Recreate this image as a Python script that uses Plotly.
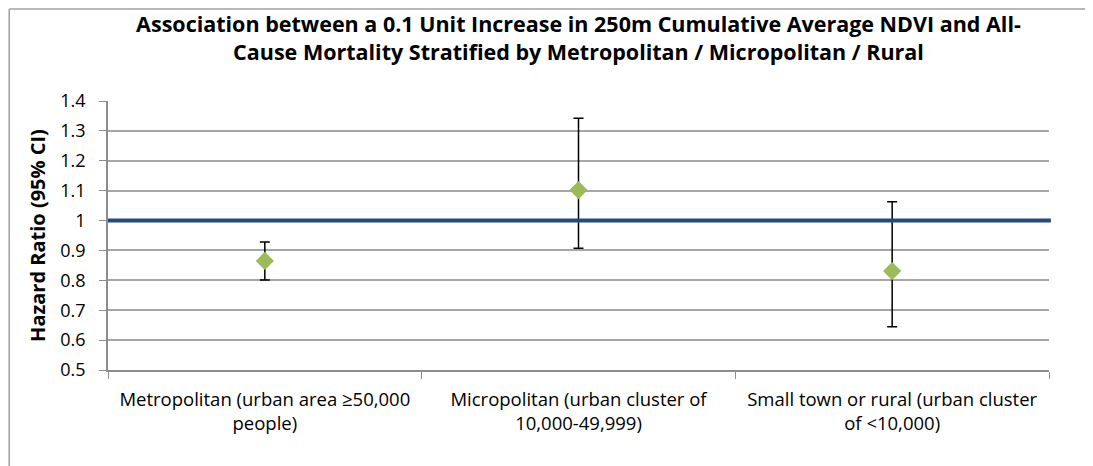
import plotly.graph_objects as go

# ── Data ────────────────────────────────────────────────────────────────────
categories = [
    "Metropolitan (urban area ≥50,000<br>people)",
    "Micropolitan (urban cluster of<br>10,000-49,999)",
    "Small town or rural (urban cluster<br>of <10,000)",
]
hazard_ratio = [0.865, 1.102, 0.831]
ci_lower = [0.801, 0.907, 0.645]
ci_upper = [0.928, 1.342, 1.063]
y_ticks = [0.5, 0.6, 0.7, 0.8, 0.9, 1, 1.1, 1.2, 1.3, 1.4]
y_tick_text = ["0.5", "0.6", "0.7", "0.8", "0.9", "1", "1.1", "1.2", "1.3", "1.4"]
reference_hr = 1.0

# ── Style ───────────────────────────────────────────────────────────────────
FONT = "Open Sans, sans-serif"
MARKER_COLOR = "#9BBB59"
REF_COLOR = "#23497F"
GRID_COLOR = "#A6A6A6"
AXIS_COLOR = "#8C8C8C"
FRAME_COLOR = "#A0A0A0"

err_plus = [u - h for u, h in zip(ci_upper, hazard_ratio)]
err_minus = [h - l for h, l in zip(hazard_ratio, ci_lower)]

fig = go.Figure()
fig.add_trace(go.Scatter(
    x=categories, y=hazard_ratio,
    mode="markers",
    marker=dict(symbol="diamond", size=14, color=MARKER_COLOR),
    error_y=dict(type="data", array=err_plus, arrayminus=err_minus,
                 color="black", thickness=1.5, width=5),
    showlegend=False,
))

# reference line at HR = 1
fig.add_shape(type="line", xref="paper", yref="y", x0=0, x1=1.002,
              y0=reference_hr, y1=reference_hr,
              line=dict(color=REF_COLOR, width=4))

# outer frame (left + top border)
fig.add_shape(type="line", xref="paper", yref="paper", x0=-0.105,
              x1=-0.105, y0=-0.36, y1=1.342, line=dict(color=FRAME_COLOR, width=1.5))
fig.add_shape(type="line", xref="paper", yref="paper", x0=-0.105,
              x1=1.05, y0=1.342, y1=1.342, line=dict(color=FRAME_COLOR, width=1.5))

fig.update_layout(
    width=1085, height=458,
    paper_bgcolor="white", plot_bgcolor="white",
    margin=dict(l=100, r=44, t=93, b=96),
    font=dict(family=FONT, color="black", size=16),
    title=dict(
        text="<b>Association between a 0.1 Unit Increase in 250m Cumulative Average NDVI and All-<br>"
             "Cause Mortality Stratified by Metropolitan / Micropolitan / Rural</b>",
        xref="paper", x=0.5, xanchor="center",
        yref="container", y=0.947, yanchor="top",
        font=dict(family=FONT, size=21.5),
    ),
    xaxis=dict(
        type="category", showgrid=False,
        showline=True, linecolor=AXIS_COLOR, linewidth=1.5,
        ticks="outside", tickson="boundaries", ticklen=7, tickcolor=AXIS_COLOR,
        tickfont=dict(size=18.5), ticklabelstandoff=12, range=[-0.5, 2.5],
    ),
    yaxis=dict(
        range=[0.5, 1.4], tickvals=y_ticks, ticktext=y_tick_text,
        showgrid=True, gridcolor=GRID_COLOR, gridwidth=1.5,
        showline=True, linecolor=AXIS_COLOR, linewidth=1.5,
        ticks="outside", ticklen=7, tickcolor=AXIS_COLOR,
        tickfont=dict(size=18), ticklabelstandoff=10, zeroline=False,
        title=dict(text="<b>Hazard Ratio (95% CI)</b>", font=dict(size=20), standoff=9),
    ),
)

fig.write_html("out.html")
